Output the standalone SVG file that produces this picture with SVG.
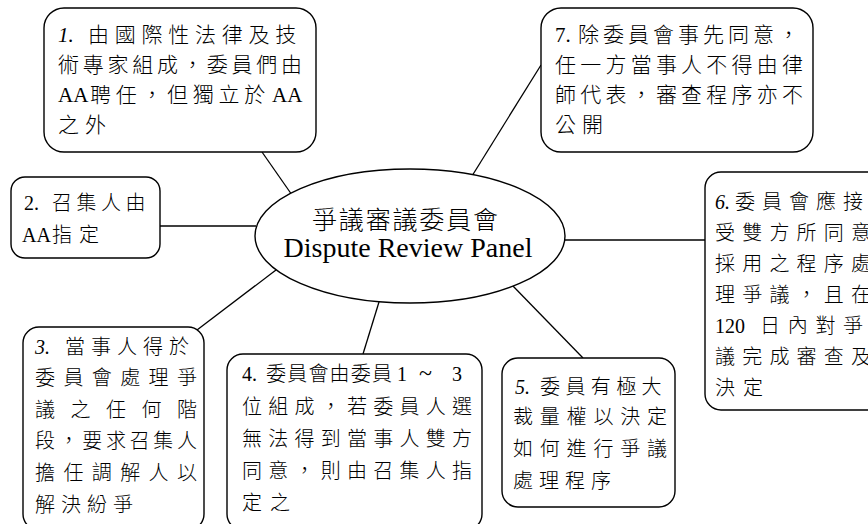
<svg xmlns="http://www.w3.org/2000/svg" width="868" height="524" viewBox="0 0 868 524">
<style>
.box{fill:#fff;stroke:#000;stroke-width:1.4}
.conn line{stroke:#000;stroke-width:1.3}
.t{font-family:"Liberation Serif","Noto Sans CJK TC",serif;font-size:20px;fill:#000;font-weight:300}
.big{font-size:21px}
.it{font-style:italic}
.title{font-family:"Liberation Serif","Noto Sans CJK TC",serif;fill:#000;text-anchor:middle;font-weight:300}
</style>
<rect width="868" height="524" fill="#fff"/>
<g id="connectors" class="conn">
<line x1="262" y1="152" x2="292" y2="195"/>
<line x1="541" y1="65" x2="472" y2="176"/>
<line x1="160" y1="226" x2="256" y2="226"/>
<line x1="564" y1="240" x2="705" y2="240"/>
<line x1="197" y1="330" x2="276" y2="270"/>
<line x1="363" y1="354" x2="379" y2="302"/>
<line x1="512" y1="285" x2="583" y2="358"/>
</g>
<g id="center">
<ellipse class="box" cx="410" cy="236" rx="155" ry="67"/>
<text class="title" x="405" y="229" font-size="25" textLength="186" lengthAdjust="spacing">爭議審議委員會</text>
<text class="title" x="408" y="257" font-size="28">Dispute Review Panel</text>
</g>
<g id="node1">
<rect class="box" x="44" y="8" width="272" height="144" rx="20"/>
<text class="t big" y="42"><tspan class="it" x="58">1.</tspan><tspan x="88" letter-spacing="5.75">由國際性法律及技</tspan></text>
<text class="t big" x="58" y="72" textLength="244" lengthAdjust="spacing">術專家組成，委員們由</text>
<text class="t big" y="102"><tspan x="58">AA</tspan><tspan x="90" letter-spacing="4.7">聘任，但獨立於</tspan><tspan x="272">AA</tspan></text>
<text class="t big" x="58" y="132" textLength="48" lengthAdjust="spacing">之外</text>
</g>
<g id="node7">
<rect class="box" x="541" y="8" width="272" height="144" rx="20"/>
<text class="t big" y="42"><tspan x="555">7.</tspan><tspan x="578" letter-spacing="4">除委員會事先同意，</tspan></text>
<text class="t big" x="555" y="72" textLength="248" lengthAdjust="spacing">任一方當事人不得由律</text>
<text class="t big" x="555" y="102" textLength="248" lengthAdjust="spacing">師代表，審查程序亦不</text>
<text class="t big" x="555" y="132" textLength="48" lengthAdjust="spacing">公開</text>
</g>
<g id="node2">
<rect class="box" x="11" y="177" width="149" height="81" rx="14"/>
<text class="t" y="210"><tspan x="24">2.</tspan><tspan x="52" letter-spacing="4.5">召集人由</tspan></text>
<text class="t" y="242"><tspan x="22">AA</tspan><tspan x="52" letter-spacing="7">指定</tspan></text>
</g>
<g id="node3">
<rect class="box" x="23" y="327" width="181" height="203" rx="16"/>
<text class="t" y="354"><tspan class="it" x="35">3.</tspan><tspan x="65" letter-spacing="6">當事人得於</tspan></text>
<text class="t" x="35" y="385" textLength="162" lengthAdjust="spacing">委員會處理爭</text>
<text class="t" x="35" y="417" textLength="162" lengthAdjust="spacing">議之任何階</text>
<text class="t" x="35" y="448" textLength="162" lengthAdjust="spacing">段，要求召集人</text>
<text class="t" x="35" y="480" textLength="162" lengthAdjust="spacing">擔任調解人以</text>
<text class="t" x="35" y="512" textLength="98" lengthAdjust="spacing">解決紛爭</text>
</g>
<g id="node4">
<rect class="box" x="227" y="354" width="255" height="176" rx="16"/>
<text class="t" y="381"><tspan x="242">4.</tspan><tspan x="266" letter-spacing="1.2">委員會由委員</tspan><tspan x="397">1</tspan><tspan x="419" font-size="24">~</tspan><tspan x="452">3</tspan></text>
<text class="t" x="242" y="414" textLength="230" lengthAdjust="spacing">位組成，若委員人選</text>
<text class="t" x="242" y="446" textLength="230" lengthAdjust="spacing">無法得到當事人雙方</text>
<text class="t" x="242" y="478" textLength="230" lengthAdjust="spacing">同意，則由召集人指</text>
<text class="t" x="242" y="510" textLength="48" lengthAdjust="spacing">定之</text>
</g>
<g id="node5">
<rect class="box" x="502" y="358" width="173" height="149" rx="16"/>
<text class="t" y="394"><tspan class="it" x="515">5.</tspan><tspan x="540" letter-spacing="5.4">委員有極大</tspan></text>
<text class="t" x="513" y="424" textLength="154" lengthAdjust="spacing">裁量權以決定</text>
<text class="t" x="513" y="456" textLength="154" lengthAdjust="spacing">如何進行爭議</text>
<text class="t" x="513" y="488" textLength="98" lengthAdjust="spacing">處理程序</text>
</g>
<g id="node6">
<rect class="box" x="705" y="172" width="185" height="238" rx="16"/>
<text class="t" y="209"><tspan class="it" x="715">6.</tspan><tspan x="735" letter-spacing="7">委員會應接</tspan></text>
<text class="t" x="715" y="240" textLength="156" lengthAdjust="spacing">受雙方所同意</text>
<text class="t" x="715" y="271" textLength="156" lengthAdjust="spacing">採用之程序處</text>
<text class="t" x="715" y="302" textLength="156" lengthAdjust="spacing">理爭議，且在</text>
<text class="t" y="333"><tspan x="715">120</tspan><tspan x="760" letter-spacing="7.7">日內對爭</tspan></text>
<text class="t" x="715" y="364" textLength="156" lengthAdjust="spacing">議完成審查及</text>
<text class="t" x="715" y="395" textLength="48" lengthAdjust="spacing">決定</text>
</g>
</svg>
